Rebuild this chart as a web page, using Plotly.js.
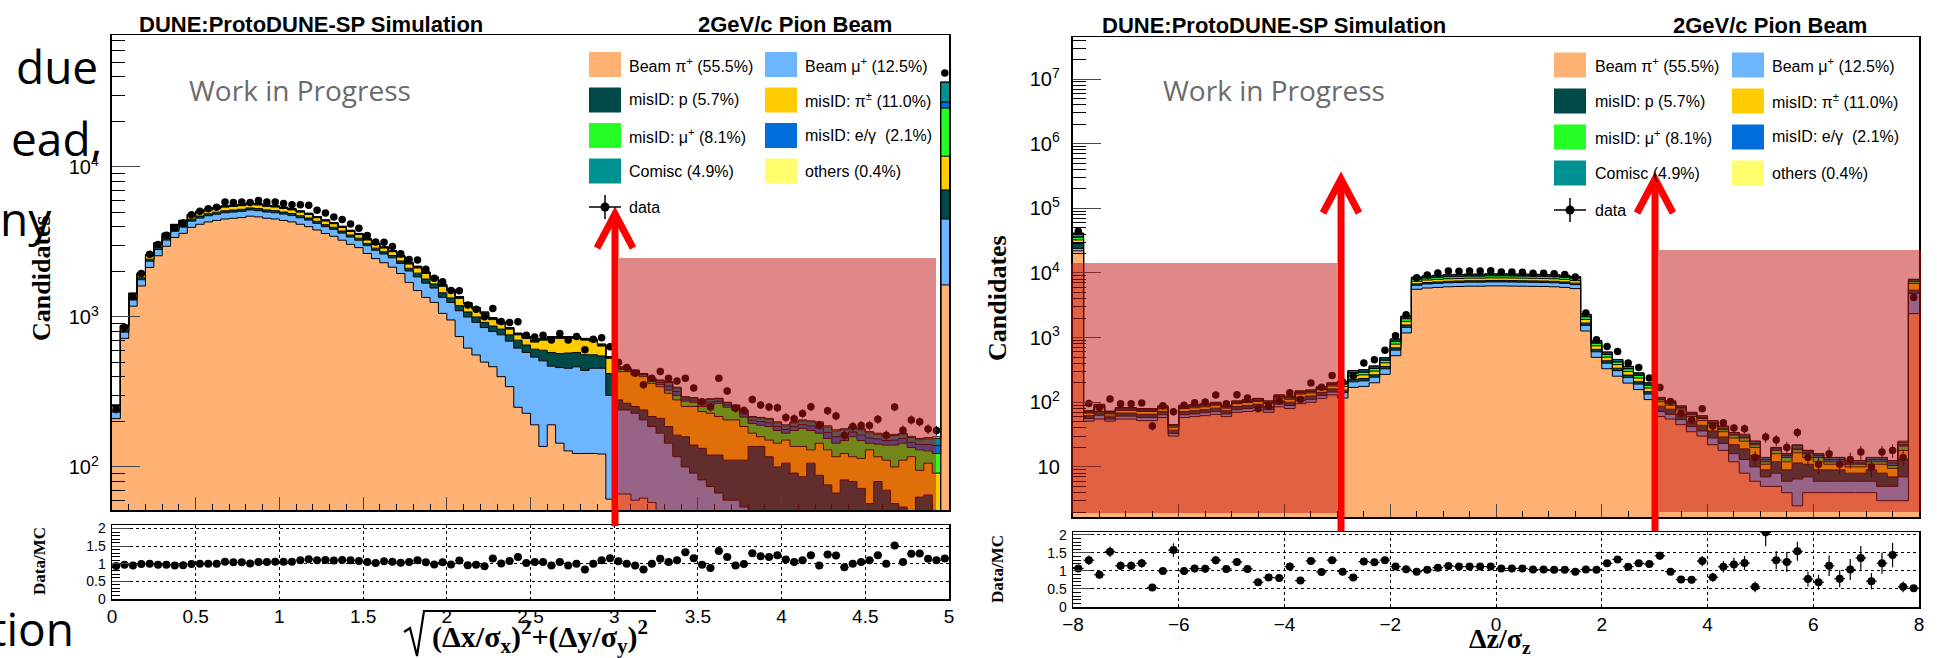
<!DOCTYPE html>
<html><head><meta charset="utf-8">
<script src="https://cdn.plot.ly/plotly-3.0.1.min.js"></script>
<style>html,body{margin:0;padding:0;background:#fff}#chart{width:1953px;height:658px}</style>
</head><body><div id="chart"></div>
<script>
// ================= DATA =================
const legendLabels = ['Beam π<sup>+</sup> (55.5%)','Beam μ<sup>+</sup> (12.5%)','misID: p (5.7%)','misID: π<sup>±</sup> (11.0%)',
  'misID: μ<sup>+</sup> (8.1%)','misID: e/γ  (2.1%)','Comisc (4.9%)','others (0.4%)'];
const dataLabel = 'data';
const plotTitle = 'DUNE:ProtoDUNE-SP Simulation';
const beamLabel = '2GeV/c Pion Beam';
const wipLabel = 'Work in Progress';

// Left panel: sqrt((dx/sx)^2+(dy/sy)^2), 100 bins in [0,5]
const leftRange = [0, 5];
const leftBeamPi = [210,720,1180,1610,2140,2560,2960,3390,3610,3960,
4150,4300,4400,4500,4550,4600,4700,4650,4550,4500,
4400,4300,4150,4000,3800,3600,3450,3250,3050,2900,
2650,2450,2300,2150,1950,1700,1500,1350,1250,1057,
955,740,620,558,500,466,400,343,250,228,
191,137,191,144,128,123,123,123,122,61,
66,66,60,62,58,0,0,0,0,0,
0,0,0,0,0,0,0,0,0,0,
0,0,0,0,0,0,0,0,0,0,
0,0,0,0,0,0,0,0,0,1635];
const leftBeamMu = [22,72,118,161,214,256,296,339,361,396,
415,430,440,450,455,460,470,465,460,455,
450,445,435,425,410,400,390,375,360,350,
340,335,330,330,325,325,350,330,310,293,
295,360,380,362,350,334,360,347,370,352,
349,373,279,316,327,342,317,332,333,239,
174,174,168,144,128,168,144,117,100,91,
82,74,67,60,60,54,30,30,28,26,
25,24,22,22,21,20,20,19,18,18,
17,17,16,16,15,15,15,14,14,2865];
const leftMisP = [8,25,41,56,75,90,104,119,126,139,
145,150,154,158,159,161,165,163,160,158,
154,150,145,140,133,126,121,114,107,102,
95,92,90,88,86,85,110,110,100,100,
90,90,80,80,70,70,70,70,80,70,
70,90,110,110,120,115,120,105,95,120,
40,26,25,34,31,43,42,46,59,49,
51,46,53,51,51,57,107,107,89,74,
81,67,64,84,67,56,47,63,62,54,
40,63,54,41,39,33,48,51,34,2530];
const leftMisPi = [14,47,77,105,139,166,192,220,235,257,
270,280,286,293,296,299,306,302,296,293,
286,280,270,260,247,234,224,211,198,189,
175,165,160,155,150,145,160,160,140,150,
150,140,140,130,130,90,70,70,60,70,
70,100,140,150,145,140,140,130,90,110,
152,166,158,160,144,132,124,117,94,113,
101,108,97,95,95,75,31,22,34,44,
45,46,51,24,56,54,50,41,37,42,
73,37,41,43,57,69,32,41,43,4770];
const leftMisMu = [2,7,12,16,21,26,30,34,36,40,
42,43,44,45,46,46,47,47,46,45,
44,43,42,40,38,36,35,33,31,29,
28,27,26,25,24,23,24,20,20,20,
16,16,12,12,12,12,10,8,8,8,
8,8,8,8,8,8,8,8,8,6,
13,13,14,10,11,12,15,20,22,17,
19,32,49,44,34,29,27,31,35,31,
17,38,44,45,24,25,27,27,42,36,
14,25,29,40,33,18,35,22,32,12900];
const leftMisE = [1,2,4,5,6,8,9,10,11,12,
12,13,13,14,14,14,14,14,14,14,
13,13,12,12,11,11,10,10,9,9,
8,8,7,7,7,6,9,8,8,8,
6,6,5,5,5,5,4,3,3,3,
3,3,3,3,3,3,3,3,3,2,
9,7,8,5,8,11,21,18,9,9,
12,11,9,9,9,11,10,11,11,11,
10,11,11,13,14,15,15,13,12,13,
12,12,10,11,11,11,11,13,16,2400];
const leftCosmic = [2,6,9,13,17,20,24,27,29,32,
33,34,35,36,36,37,38,37,36,36,
35,34,33,32,30,29,28,26,24,23,
22,21,20,19,18,17,21,17,17,17,
14,14,10,10,10,10,9,7,7,7,
7,7,7,7,7,7,7,7,7,5,
10,7,8,4,8,11,20,18,8,9,
12,11,10,9,8,11,10,11,11,11,
10,11,11,12,14,15,15,14,12,14,
13,11,10,11,11,11,11,13,16,9700];
const leftOthers = [0,1,2,3,4,5,6,7,7,8,
8,9,9,9,9,9,9,9,9,9,
9,9,8,8,8,7,7,7,6,6,
5,5,5,5,4,4,6,5,5,5,
4,4,3,3,3,3,2,2,2,2,
2,2,2,2,2,2,2,2,2,2,
2,1,2,1,2,3,5,4,2,2,
3,3,2,2,2,3,2,2,3,3,
3,3,3,3,4,3,3,3,3,3,
3,3,3,3,2,3,3,3,4,0];
const leftData = [243,854,1371,1949,2616,3037,3512,3939,4238,4796,
5075,5259,5381,5835,5788,5851,5806,5971,5850,5841,
5714,5590,5605,5556,5145,4932,4649,4469,4164,3897,
3489,3165,3144,2946,2641,2420,2398,2080,1813,1716,
1499,1493,1200,1125,1004,1139,934,918,928,755,
735,756,703,777,703,740,605,710,726,632,
499,460,421,353,390,433,390,374,391,336,
272,251,390,321,246,238,282,259,251,248,
214,210,227,252,190,237,219,162,186,189,
189,208,163,251,176,206,200,179,175,42300];

// Right panel: dz/sz, 80 bins in [-8,8]
const rightRange = [-8, 8];
const rightBeamPi = [22000,
51,55,51,55,55,52,52,58,30,58,60,62,65,60,70,72,75,70,85,80,95,100,115,130,
116,170,176,200,270,525,1180,
5590,5850,5980,6110,6175,6240,6240,6305,6305,6273,6240,6208,6175,6110,5980,5720,
1265,495,330,253,198,157,110,
60,55,45,35,30,22,18,12,8,6,5,5,4,2.5,4,4,4,4,4,4,4,3,3,3,
2350];
const rightBeamMu = [2000,
5,8,4,6,6,6,6,6,3,6,6,7,7,6,7,8,8,7,9,9,11,11,12,14,
25,37,38,44,59,115,258,
860,900,920,940,950,960,960,970,970,965,960,955,950,940,920,880,
276,108,72,55,43,34,24,
12,10,9,7,6,6,5,4,5,4,2,3,2,4,3,2,2,2,2,2,2,2,2,4,
2450];
const rightMisP = [4500,
6,9,6,7,7,7,7,8,4,8,8,8,9,8,9,9,10,9,11,11,14,14,15,17,
13,19,19,22,29,57,130,
344,360,368,376,380,384,384,388,388,386,384,382,380,376,368,352,
138,54,36,28,22,17,12,
15,13,11,9,8,8,6,6,6,5,2,4,3,5,4,3,3,3,2,2,3,3,2,6,
600];
const rightMisPi = [4000,
6,10,5,7,7,7,7,7,4,8,8,8,9,7,9,10,10,9,11,11,14,14,15,18,
21,31,32,37,49,96,215,
645,675,690,705,713,720,720,728,728,724,720,716,713,705,690,660,
230,90,60,46,36,29,20,
15,12,11,9,8,7,6,6,6,5,2,4,3,5,3,3,2,2,2,2,2,3,2.5,5,
1500];
const rightMisMu = [3000,
2,4,2,3,3,3,3,3,2,3,3,3,3,3,3,4,4,3,5,5,5,5,6,7,
17,25,26,29,39,76,172,
559,585,598,611,618,624,624,631,631,627,624,621,618,611,598,572,
184,72,48,37,29,23,16,
7,6,5,4,4,4,3,3,3,2,1,2,2,2,2,2,1,1,1,1,1,1,1,3,
500];
const rightMisE = [600,
1,2,1,1,1,1,1,2,1,2,2,2,2,2,2,2,2,2,2,2,3,3,3,4,
4,6,6,7,10,19,43,
129,135,138,141,143,144,144,146,146,145,144,143,143,141,138,132,
46,18,12,9,7,6,4,
3,3,2,2,2,2,1,1,1,1,1,1,1,1,1,1,1,1,0.5,0.5,1,1,1,1,
100];
const rightCosmic = [5000,
3,4,3,3,3,3,3,3,1,4,4,4,4,3,4,4,5,4,6,6,7,7,7,8,
13,19,19,22,29,57,130,
430,450,460,470,475,480,480,485,485,482,480,477,475,470,460,440,
138,54,36,28,22,17,12,
6,5,4,3,3,3,3,2,2,2,1,1,1,2,1,1,1,1,1,1,1,1,1,2,
400];
const rightOthers = [300,
0,1,1,1,1,1,1,1,0,1,1,1,1,1,1,1,1,1,1,1,1,1,2,2,
1,3,4,4,5,10,22,
43,45,46,47,46,48,48,47,47,48,48,48,46,47,46,44,
23,9,6,4,3,2,2,
1,1,1,1,1,0,1,0,1,0,0,0,0,0.5,0,0,0,0,0,0,0,0,0,1,
100];
const rightData = [44300,
96,83,112,95,95,97,43,88,71,90,98,101,130,95,131,116,79,86,105,140,110,198,170,260,
206,254,403,453,637,1070,2258,
8428,9270,10028,10716,10640,10752,10752,10864,10379,10326,10272,9932,9880,9682,9476,8624,
2392,927,726,607,403,345,238,
169,103,67,53,79,43,48,40,39,14,29,26,20,34,14,11,16,11,13,17,10,17,18,14,
4160];

// ================= STYLE =================
const compColors = ['#ffb273','#6db6ff','#004949','#ffcc00','#24ff24','#006ddb','#009292','#ffff6d'];
const W = 1953, H = 658;
const px = v => v / W;
const py = v => 1 - v / H;
const FLOOR = 1e-3;
const SANS = 'Liberation Sans, Arial, Helvetica, sans-serif';
const SERIF = 'Liberation Serif, Times New Roman, serif';

const traces = [];
function buildPanel(ax, range, series, data) {
  const [xm, ym, xr, yr] = ax;
  const n = data.length, lo = range[0], w = (range[1] - range[0]) / n;
  const edges = Array.from({length: n + 1}, (_, i) => lo + i * w);
  const centers = Array.from({length: n}, (_, i) => lo + (i + 0.5) * w);
  traces.push({type:'scatter', x: edges, y: edges.map(() => FLOOR), xaxis: xm, yaxis: ym,
    mode:'lines', line:{width:0, color:'rgba(0,0,0,0)'}, hoverinfo:'skip', showlegend:false});
  let cum = new Array(n).fill(0);
  series.forEach((s, k) => {
    cum = cum.map((c, i) => c + s[i]);
    const yy = cum.map(v => Math.max(v, FLOOR)); yy.push(yy[n - 1]);
    traces.push({type:'scatter', x: edges, y: yy, xaxis: xm, yaxis: ym, mode:'lines',
      line:{shape:'hv', color:'#000', width:1}, fill:'tonexty', fillcolor: compColors[k],
      hoverinfo:'skip', showlegend:false});
  });
  const mc = cum;
  traces.push({type:'scatter', x: centers, y: data, xaxis: xm, yaxis: ym, mode:'markers',
    marker:{color:'#000', size:7.5}, showlegend:false,
    error_y:{type:'data', array: data.map(d => Math.sqrt(d)), color:'#000', thickness:1, width:0}});
  traces.push({type:'scatter', x: centers, y: data.map((d, i) => d / mc[i]), xaxis: xr, yaxis: yr,
    mode:'markers', marker:{color:'#000', size:8}, showlegend:false,
    error_y:{type:'data', array: data.map((d, i) => Math.sqrt(d) / mc[i]), color:'#000', thickness:1.2, width:0},
    error_x:{type:'constant', value: w / 2, color:'#000', thickness:1.2, width:0}});
}
buildPanel(['x','y','x2','y2'], leftRange,
  [leftBeamPi,leftBeamMu,leftMisP,leftMisPi,leftMisMu,leftMisE,leftCosmic,leftOthers], leftData);
buildPanel(['x3','y3','x4','y4'], rightRange,
  [rightBeamPi,rightBeamMu,rightMisP,rightMisPi,rightMisMu,rightMisE,rightCosmic,rightOthers], rightData);

const frame = {showline:true, mirror:true, linecolor:'#000', linewidth:1.5, zeroline:false, showgrid:false};
const mainX = (dom, range, dt, mdt, anchor) => Object.assign({}, frame, {domain: dom, range, anchor,
  showticklabels:false, ticks:'inside', ticklen:13, tickwidth:1, dtick: dt, tick0: range[0],
  minor:{ticks:'inside', ticklen:6, tickwidth:1, dtick: mdt, tick0: range[0], tickcolor:'#000'}});
const mainY = (dom, range, anchor) => Object.assign({}, frame, {domain: dom, range, anchor, type:'log',
  linewidth:2, dtick:1, exponentformat:'power', ticks:'inside', ticklen:28, tickwidth:1,
  minor:{ticks:'inside', ticklen:13, tickwidth:1, dtick:'D1', tickcolor:'#000'},
  tickfont:{family:SANS, size:16}, ticklabelstandoff:8});
const ratioX = (dom, range, dt, anchor) => Object.assign({}, frame, {domain: dom, range, anchor,
  dtick: dt, tick0: range[0], ticks:'', showgrid:true, griddash:'dot', gridcolor:'#000', gridwidth:1,
  tickfont:{family:SANS, size:19}});
const ratioY = (dom, range, anchor) => Object.assign({}, frame, {domain: dom, range, anchor,
  dtick:0.5, tick0:0, ticks:'inside', ticklen:18, tickwidth:1, showgrid:true, griddash:'dot', gridcolor:'#000', gridwidth:1,
  minor:{ticks:'inside', ticklen:8, dtick:0.1, tick0:0, tickwidth:1, tickcolor:'#000'},
  tickfont:{family:SANS, size:14}, ticklabelstandoff:2});

const LX = [px(112), px(949)], RX = [px(1073), px(1919)];
const layout = {
  width: W, height: H, margin:{l:0, r:0, t:0, b:0},
  paper_bgcolor:'#fff', plot_bgcolor:'rgba(0,0,0,0)', showlegend:false, hovermode:false,
  font:{family:SANS, color:'#000'},
  xaxis: mainX(LX, leftRange, 0.5, 0.1, 'y'),
  yaxis: mainY([py(510), py(35)], [1.713, 4.88], 'x'),
  xaxis2: ratioX(LX, leftRange, 0.5, 'y2'),
  yaxis2: ratioY([py(599), py(525)], [0, 2.1], 'x2'),
  xaxis3: mainX(RX, rightRange, 2, 0.5, 'y3'),
  yaxis3: mainY([py(517), py(37)], [0.225, 7.65], 'x3'),
  xaxis4: ratioX(RX, rightRange, 2, 'y4'),
  yaxis4: ratioY([py(607), py(532)], [0, 2.08], 'x4'),
  shapes: [], annotations: []
};

const S = layout.shapes, A = layout.annotations;
function rect(x0, y0, x1, y1, fill) {
  S.push({type:'rect', xref:'paper', yref:'paper', x0: px(x0), x1: px(x1), y0: py(y1), y1: py(y0),
    fillcolor: fill, line:{width:0}, layer:'above'});
}
function path(pts, color, width) {
  const d = pts.map((p, i) => (i ? 'L' : 'M') + px(p[0]).toFixed(5) + ',' + py(p[1]).toFixed(5)).join(' ');
  S.push({type:'path', xref:'paper', yref:'paper', path: d, line:{color, width}, layer:'above'});
}
function text(x, y, t, opt) {
  A.push(Object.assign({xref:'paper', yref:'paper', x: px(x), y: py(y), text: t, showarrow:false,
    xanchor:'left', yanchor:'middle', font:{family:SANS, size:16, color:'#000'}}, opt || {}));
}

// overlay boxes and arrows
const OVL = 'rgba(193,17,17,0.5)';
rect(619, 258, 936, 510, OVL);
rect(1071, 263, 1337, 513, OVL);
rect(1659, 250, 1921, 512, OVL);
[[615, 214, 526], [1341, 179, 531], [1655, 179, 531]].forEach(([x, tip, bot]) => {
  path([[x, bot], [x, tip + 3]], '#ff0000', 7);
  path([[x - 18, tip + 34], [x, tip], [x + 18, tip + 34]], '#ff0000', 7);
});

// legends
function legend(c1, c2, t1, t2, rows, dataRow) {
  legendLabels.forEach((lab, k) => {
    const col = k % 2, row = Math.floor(k / 2);
    const bx = col ? c2 : c1, yc = rows[row];
    rect(bx, yc - 12.5, bx + 32, yc + 12.5, compColors[k]);
    text(col ? t2 : t1, yc, lab);
  });
  const mx = c1 + 16;
  path([[c1, dataRow], [c1 + 32, dataRow]], '#000', 1.5);
  path([[mx, dataRow - 12], [mx, dataRow + 12]], '#000', 1.5);
  S.push({type:'circle', xref:'paper', yref:'paper', x0: px(mx - 4.5), x1: px(mx + 4.5),
    y0: py(dataRow + 4.5), y1: py(dataRow - 4.5), fillcolor:'#000', line:{width:0}, layer:'above'});
  text(t1, dataRow, dataLabel);
}
legend(589, 765, 627, 803, [64.5, 100, 135.5, 171], 207);
legend(1554, 1732, 1593, 1770, [65, 101, 137, 173], 210);

// titles
const titleFont = {family:SANS, size:22, color:'#000'};
text(137, 24, '<b>' + plotTitle + '</b>', {font: titleFont});
text(894, 24, '<b>' + beamLabel + '</b>', {font: titleFont, xanchor:'right'});
text(1100, 26, '<b>' + plotTitle + '</b>', {font: titleFont});
text(1869, 26, '<b>' + beamLabel + '</b>', {font: titleFont, xanchor:'right'});
const wipFont = {family:'Open Sans, sans-serif', size:28, color:'#6b6b6b'};
text(300, 90, wipLabel, {font: wipFont, xanchor:'center'});
text(1274, 90, wipLabel, {font: wipFont, xanchor:'center'});

// axis titles
const ytFont = {family:SERIF, size:26, color:'#000'};
text(41, 278, '<b>Candidates</b>', {font: ytFont, textangle:-90, xanchor:'center'});
text(997, 298, '<b>Candidates</b>', {font: ytFont, textangle:-90, xanchor:'center'});
const rtFont = {family:SERIF, size:17, color:'#000'};
text(39, 561, '<b>Data/MC</b>', {font: rtFont, textangle:-90, xanchor:'center'});
text(997, 569, '<b>Data/MC</b>', {font: rtFont, textangle:-90, xanchor:'center'});
text(540, 636, '<b>(Δx/σ<sub>x</sub>)<sup>2</sup>+(Δy/σ<sub>y</sub>)<sup>2</sup></b>',
  {font:{family:SERIF, size:30, color:'#000'}, xanchor:'center'});
path([[404, 632], [410, 628], [417, 656], [424, 611], [656, 611]], '#000', 2.2);
text(1500, 640, '<b>Δz/σ<sub>z</sub></b>', {font:{family:SERIF, size:28, color:'#000'}, xanchor:'center'});

// slide text fragments behind the figure
const slideFont = {family:'Open Sans, sans-serif', size:46, color:'#000'};
text(100, 66, 'due', {font: slideFont, xanchor:'right'});
text(104, 138, 'ead,', {font: slideFont, xanchor:'right'});
text(54, 218, 'ny', {font: slideFont, xanchor:'right'});
text(76, 628, 'tion', {font: slideFont, xanchor:'right'});

Plotly.newPlot('chart', traces, layout, {staticPlot:true, displayModeBar:false});
</script>
</body></html>
